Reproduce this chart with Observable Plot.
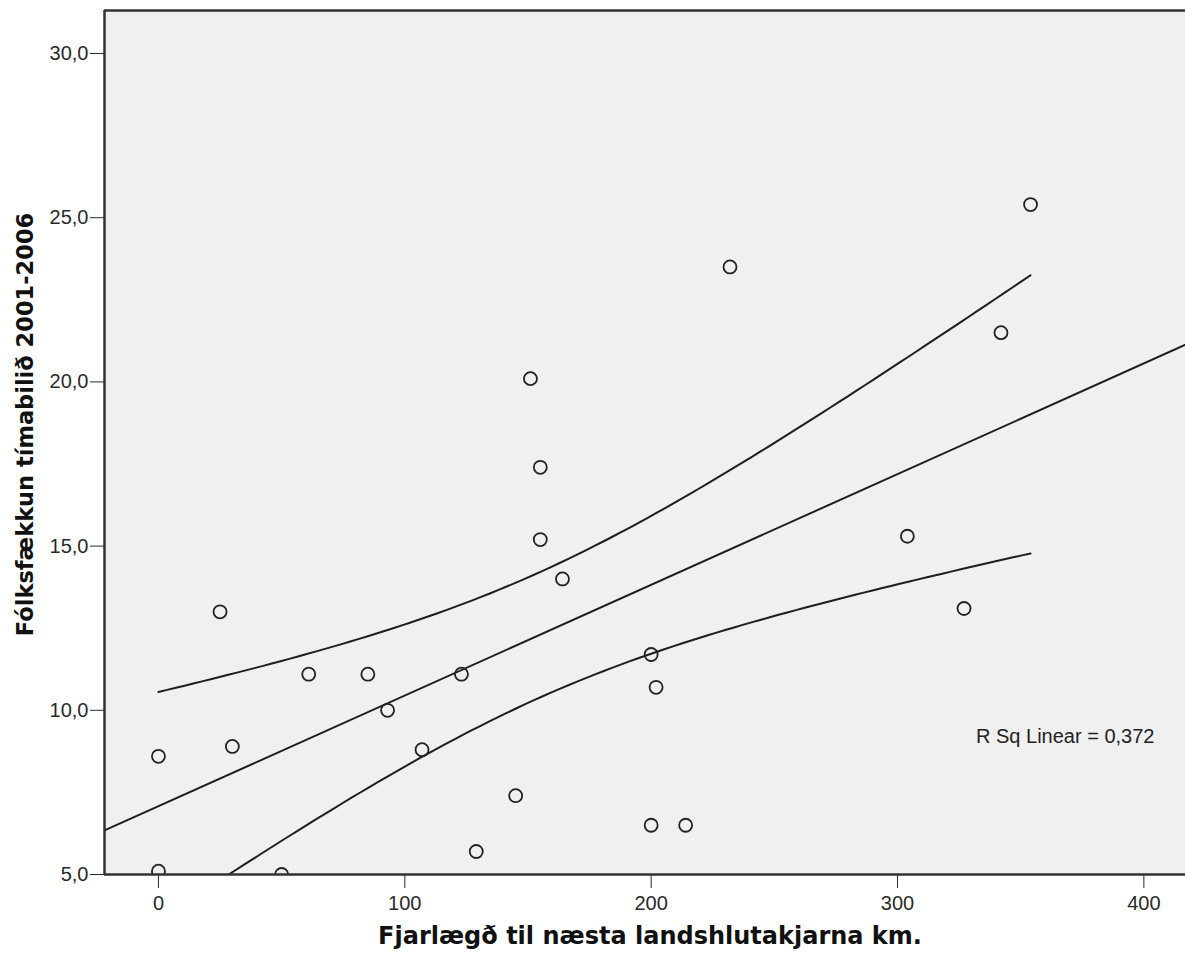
<!DOCTYPE html>
<html>
<head>
<meta charset="utf-8">
<script src="https://cdn.jsdelivr.net/npm/d3@7"></script>
<script src="https://cdn.jsdelivr.net/npm/@observablehq/plot@0.6"></script>
<style>
  html, body { margin: 0; padding: 0; background: #ffffff; }
  #chart svg { display: block; }
</style>
</head>
<body>
<div id="chart"></div>
<script>
// ---- Data ----
const distanceKm = [0, 0, 25, 30, 50, 61, 85, 93, 107, 123, 129, 145, 151, 155, 155, 164, 200, 202, 200, 214, 232, 304, 327, 342, 354];
const populationDecline = [8.6, 5.1, 13.0, 8.9, 5.0, 11.1, 11.1, 10.0, 8.8, 11.1, 5.7, 7.4, 20.1, 17.4, 15.2, 14.0, 11.7, 10.7, 6.5, 6.5, 23.5, 15.3, 13.1, 21.5, 25.4];
const xTicks = [0, 100, 200, 300, 400];
const yTicks = [5, 10, 15, 20, 25, 30];
const xDomain = [-21.9, 416.9];
const yDomain = [5, 31.31];
const xTitle = "Fjarlægð til næsta landshlutakjarna km.";
const yTitle = "Fólksfækkun tímabilið 2001-2006";
const rsqLabel = "R Sq Linear = 0,372";
const T_CRIT = 2.069; // t(0.975, df = 23) for the 95% mean confidence band

// ---- Linear fit and 95% confidence band from the data ----
const points = distanceKm.map((x, i) => ({x, y: populationDecline[i]}));
const n = points.length;
const xbar = d3.mean(points, d => d.x);
const ybar = d3.mean(points, d => d.y);
const Sxx = d3.sum(points, d => (d.x - xbar) ** 2);
const Sxy = d3.sum(points, d => (d.x - xbar) * (d.y - ybar));
const slope = Sxy / Sxx;
const intercept = ybar - slope * xbar;
const sse = d3.sum(points, d => (d.y - (intercept + slope * d.x)) ** 2);
const s = Math.sqrt(sse / (n - 2));
const xMin = d3.min(distanceKm), xMax = d3.max(distanceKm);
const band = d3.range(0, 101).map(k => {
  const x = xMin + (xMax - xMin) * k / 100;
  const fit = intercept + slope * x;
  const half = T_CRIT * s * Math.sqrt(1 / n + (x - xbar) ** 2 / Sxx);
  return {x, upper: fit + half, lower: fit - half};
});
const fitLine = xDomain.map(x => ({x, y: intercept + slope * x}));

const lineStyle = {stroke: "#1e1e1e", strokeWidth: 2, clip: true};
const axisStroke = {stroke: "#333333", strokeWidth: 2.5};
const titleFont = {fontFamily: "'DejaVu Sans', Verdana, sans-serif", fontWeight: "bold", fill: "#111", textAnchor: "middle", lineAnchor: "middle"};

const chart = Plot.plot({
  width: 1185,
  height: 957,
  marginLeft: 104,
  marginRight: 0,
  marginTop: 10,
  marginBottom: 83,
  style: {fontFamily: "'Liberation Sans', Arial, sans-serif", fontSize: "20px", color: "#2a2a2a", background: "#ffffff"},
  x: {domain: xDomain, ticks: xTicks, tickSize: 14, tickPadding: 7, label: null},
  y: {domain: yDomain, ticks: yTicks, tickSize: 14, tickPadding: 2, tickFormat: d => d.toFixed(1).replace(".", ","), label: null},
  marks: [
    Plot.frame({fill: "#f0f0f0", stroke: null}),
    Plot.line(fitLine, {x: "x", y: "y", ...lineStyle}),
    Plot.line(band, {x: "x", y: "upper", ...lineStyle}),
    Plot.line(band, {x: "x", y: "lower", ...lineStyle}),
    Plot.dot(points, {x: "x", y: "y", r: 6.5, stroke: "#222", strokeWidth: 1.8, fill: "none", clip: true}),
    Plot.ruleX([xDomain[0]], axisStroke),
    Plot.ruleY([yDomain[0], yDomain[1]], axisStroke),
    Plot.text([rsqLabel], {frameAnchor: "bottom-right", textAnchor: "end", lineAnchor: "middle", dx: -31, dy: -138, fontSize: 20, fill: "#222"}),
    Plot.text([xTitle], {frameAnchor: "bottom", dx: 5, dy: 62, fontSize: 24, ...titleFont}),
    Plot.text([yTitle], {frameAnchor: "left", rotate: -90, dx: -79, dy: -18, fontSize: 22.5, ...titleFont})
  ]
});
document.getElementById("chart").appendChild(chart);
</script>
</body>
</html>
